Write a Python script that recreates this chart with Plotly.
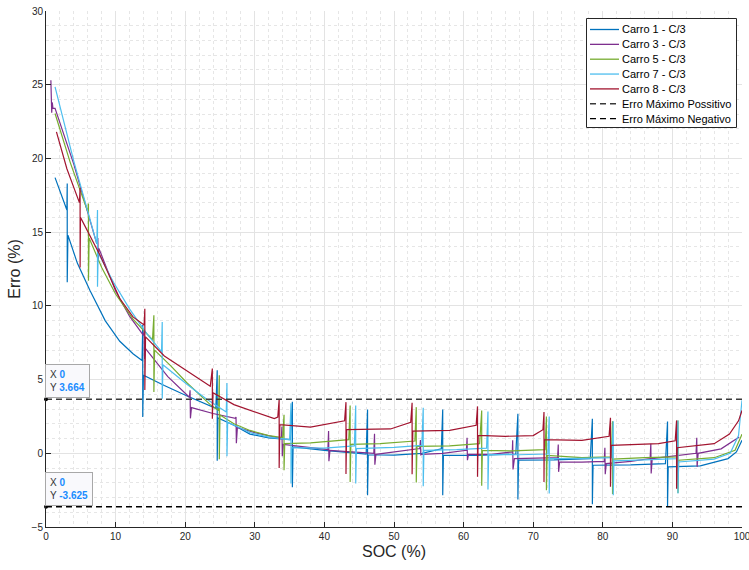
import plotly.graph_objects as go

# ---------------- data ----------------
car1_x = [1.3, 2.0, 3.0, 3.05, 3.05, 3.15, 4.5, 6.3, 8.5, 10.6, 12.5, 13.8, 13.9, 13.9, 14.0, 17.0, 20.2, 24.4,
          24.6, 24.6, 24.7, 27.0, 29.3, 32.0, 35.1, 35.4, 35.4, 35.5, 40.0, 43.0, 46.0, 46.2, 46.2, 46.3, 50.0,
          54.0, 56.8, 57.0, 57.0, 57.1, 62.0, 67.5, 67.8, 67.8, 67.9, 73.0, 78.2, 78.5, 78.5, 78.6, 84.0, 89.0,
          89.3, 89.3, 89.4, 94.0, 98.0, 99.2, 100]
car1_y = [18.7, 17.8, 16.5, 18.3, 11.6, 14.8, 12.9, 11.06, 9.0, 7.6, 6.75, 6.3, 8.7, 2.46, 5.3, 4.6, 3.9, 3.05,
          5.63, -0.5, 2.4, 1.9, 1.3, 1.05, 0.92, 3.5, -2.3, 0.43, 0.2, 0.07, -0.05, 2.97, -2.84, -0.1, -0.12,
          0.0, 0.3, 2.97, -2.84, -0.14, -0.14, -0.05, 2.68, -3.13, -0.47, -0.45, -0.36, 2.34, -3.45, -0.81,
          -0.78, -0.7, 2.16, -3.63, -0.92, -0.85, -0.36, 0.09, 0.88]

car3_x = [0.7, 0.72, 0.78, 0.82, 0.9, 1.0, 1.3, 4.0, 7.3, 7.45, 7.5, 7.6, 10.0, 12.0, 14.0, 14.1, 14.15, 14.3,
          17.5, 20.6, 20.7, 20.75, 20.9, 24.0, 27.2, 27.3, 27.35, 27.5, 30.0, 33.8, 33.9, 33.95, 34.1, 37.0,
          40.5, 40.6, 40.65, 40.8, 44.0, 47.1, 47.2, 47.25, 47.4, 50.5, 53.7, 53.8, 53.85, 54.0, 57.0, 60.4,
          60.5, 60.55, 60.7, 64.0, 67.0, 67.05, 67.1, 67.3, 70.5, 73.5, 73.6, 73.65, 73.8, 77.0, 80.2, 80.3,
          80.35, 80.5, 84.0, 86.8, 86.9, 86.95, 87.1, 90.0, 93.4, 93.5, 93.55, 93.7, 97.0, 99.6]
car3_y = [25.3, 24.2, 25.1, 23.1, 23.8, 23.4, 23.4, 19.6, 14.2, 14.6, 13.0, 13.9, 11.0, 9.3, 8.0, 8.4, 6.4, 7.1,
          5.2, 3.8, 4.27, 2.37, 3.1, 2.7, 2.37, 2.46, 0.68, 1.75, 1.4, 1.0, 1.82, -0.2, 0.6, 0.45, 0.25, 1.51,
          -0.54, 0.2, 0.1, 0.0, 1.33, -0.77, -0.07, 0.1, 0.32, 0.9, -0.1, -0.07, 0.0, 0.2, 1.06, -0.47, -0.07,
          -0.07, 0.09, 0.88, -1.1, -0.36, -0.35, -0.3, 0.59, -1.26, -0.59, -0.6, -0.55, 0.38, -1.42, -0.7,
          -0.55, -0.36, 0.65, -1.37, -0.36, -0.2, 0.0, 1.06, -0.92, 0.0, 0.3, 1.1]

car5_x = [1.3, 3.5, 6.0, 6.1, 6.1, 6.2, 8.0, 10.0, 12.5, 15.3, 15.5, 15.5, 15.6, 18.0, 20.2, 23.6, 24.8, 24.9,
          24.9, 25.0, 27.0, 29.3, 32.0, 34.0, 34.2, 34.2, 34.3, 38.0, 43.5, 43.7, 43.7, 43.8, 48.0, 53.0, 53.2,
          53.2, 53.3, 58.0, 62.3, 62.6, 62.6, 62.7, 67.0, 71.7, 71.9, 71.9, 72.0, 77.0, 81.2, 81.4, 81.4, 81.5,
          86.0, 90.6, 90.8, 90.8, 90.9, 96.0, 99.0, 100]
car5_y = [23.05, 19.7, 16.4, 16.94, 11.7, 14.6, 12.6, 10.8, 9.1, 7.7, 9.36, 4.16, 7.0, 5.9, 4.8, 3.3, 2.9, 5.3,
          -0.4, 2.6, 2.0, 1.55, 1.2, 1.06, 2.61, -1.15, 0.65, 0.7, 0.92, 3.24, -1.94, 0.6, 0.65, 0.83, 3.13,
          -1.98, 0.47, 0.5, 0.65, 2.9, -2.2, 0.2, 0.16, 0.25, 2.5, -2.5, -0.14, -0.3, -0.25, 2.18, -2.77, -0.4,
          -0.3, -0.25, 2.23, -2.7, -0.47, -0.3, 0.2, 1.3]

car7_x = [1.3, 4.0, 7.3, 7.4, 7.4, 7.5, 9.7, 12.0, 14.5, 16.6, 16.7, 16.7, 16.8, 20.2, 23.0, 25.9, 26.0, 26.0,
          26.1, 28.0, 29.3, 32.0, 35.0, 35.2, 35.2, 35.3, 40.0, 44.3, 44.5, 44.5, 44.6, 50.0, 54.0, 54.2, 54.2,
          54.3, 59.0, 63.3, 63.5, 63.5, 63.6, 68.0, 72.1, 72.3, 72.3, 72.4, 77.0, 81.3, 81.5, 81.5, 81.6, 86.0,
          90.6, 90.8, 90.8, 90.9, 96.0, 98.3, 99.5, 100]
car7_y = [24.85, 19.8, 14.2, 16.5, 11.3, 13.6, 11.6, 9.8, 8.1, 6.9, 8.9, 3.7, 6.0, 4.7, 3.7, 2.8, 4.77, -0.2,
          2.1, 1.7, 1.4, 1.1, 0.92, 3.4, -2.05, 0.38, 0.35, 0.5, 3.24, -2.05, 0.32, 0.4, 0.54, 3.09, -2.23,
          0.2, 0.25, 0.35, 2.84, -2.45, -0.07, -0.1, -0.05, 2.5, -2.72, -0.36, -0.35, -0.3, 2.18, -2.84, -0.52,
          -0.45, -0.36, 2.23, -2.72, -0.59, -0.4, 0.0, 1.2, 3.6]

car8_x = [1.5, 3.0, 4.8, 4.9, 4.9, 4.95, 7.8, 10.6, 12.5, 14.1, 14.2, 14.2, 14.3, 17.0, 20.2, 23.6, 23.9, 23.9,
          24.0, 27.0, 30.3, 32.8, 33.3, 33.5, 33.5, 33.6, 38.0, 42.9, 43.1, 43.1, 43.2, 49.5, 52.4, 52.6, 52.6,
          52.7, 58.0, 61.8, 62.0, 62.0, 62.1, 66.0, 70.0, 71.4, 71.55, 71.55, 71.6, 77.0, 80.9, 81.1, 81.1,
          81.2, 88.0, 90.4, 90.6, 90.6, 90.7, 96.0, 98.2, 99.5, 100]
car8_y = [21.8, 19.3, 17.0, 18.0, 12.6, 16.0, 13.4, 10.5, 9.25, 8.7, 9.8, 4.3, 7.9, 6.6, 5.6, 4.55, 5.75, 2.35,
          4.1, 3.3, 2.75, 2.35, 2.45, 3.65, -1.0, 1.95, 1.78, 2.2, 3.47, -1.4, 1.6, 1.65, 2.1, 3.42, -1.42, 1.5,
          1.55, 1.9, 3.18, -1.6, 1.22, 1.15, 1.2, 1.6, 2.8, -1.94, 0.92, 0.88, 1.15, 2.41, -2.27, 0.54, 0.65,
          0.85, 2.23, -2.4, 0.38, 0.65, 1.3, 2.2, 2.9]

err_pos = 3.664
err_neg = -3.625
x_limits = [0, 100]

names = ["Carro 1 - C/3", "Carro 3 - C/3", "Carro 5 - C/3", "Carro 7 - C/3", "Carro 8 - C/3"]
colors = ["#0072BD", "#7E2F8E", "#77AC30", "#4DBEEE", "#A2142F"]
xs_all = [car1_x, car3_x, car5_x, car7_x, car8_x]
ys_all = [car1_y, car3_y, car5_y, car7_y, car8_y]
ref_names = ["Erro Máximo Possitivo", "Erro Máximo Negativo"]
ref_colors = ["#3a3a3a", "#000000"]

FONT = "Liberation Sans, Arial, Helvetica, sans-serif"
DASH = "6px,4px"

fig = go.Figure()
for name, xs, ys, col in zip(names, xs_all, ys_all, colors):
    fig.add_trace(go.Scatter(x=xs, y=ys, mode="lines", name=name, showlegend=False,
                             line=dict(color=col, width=1.2)))

for name, val, col in zip(ref_names, [err_pos, err_neg], ref_colors):
    fig.add_trace(go.Scatter(x=x_limits, y=[val, val], mode="lines", name=name, showlegend=False,
                             line=dict(color=col, width=1.3, dash=DASH)))

# data-tip markers
fig.add_trace(go.Scatter(x=[0, 0], y=[err_pos, err_neg], mode="markers", showlegend=False,
                         marker=dict(color="#000000", size=4), cliponaxis=False, hoverinfo="skip"))

tipcol = "#1a8cff"
for val in (err_pos, err_neg):
    fig.add_annotation(
        x=0, y=val, xref="x", yref="y", xanchor="left", yanchor="bottom",
        xshift=-1, yshift=1, showarrow=False, align="left",
        text=("X <span style='color:%s'><b>0</b></span><br>Y <span style='color:%s'><b>%s</b></span>"
              % (tipcol, tipcol, ("%.3f" % val))),
        font=dict(family=FONT, size=10, color="#333333"),
        bgcolor="#f9f9fc", bordercolor="#a8a8a8", borderwidth=1, borderpad=4,
    )

# ---------------- legend (drawn by hand, MATLAB style) ----------------
W, H = 749, 570
L, R, T, B = 46, 7, 11, 43
pw, ph = W - L - R, H - T - B


def px2x(px):
    return (px - L) / pw


def py2y(py):
    return (H - B - py) / ph


box = dict(x0=586.5, x1=736.5, y0=18.5, y1=127.5)
fig.add_shape(type="rect", xref="paper", yref="paper",
              x0=px2x(box["x0"]), x1=px2x(box["x1"]), y0=py2y(box["y1"]), y1=py2y(box["y0"]),
              line=dict(color="#262626", width=1), fillcolor="white", layer="above")

leg_labels = names + ref_names
leg_colors = colors + ref_colors
row0, step = 29.5, 14.85
for i, (lab, col) in enumerate(zip(leg_labels, leg_colors)):
    yy = py2y(row0 + i * step)
    dash = DASH if i >= 5 else "solid"
    fig.add_shape(type="line", xref="paper", yref="paper",
                  x0=px2x(590), x1=px2x(619), y0=yy, y1=yy,
                  line=dict(color=col, width=1.3, dash=dash), layer="above")
    fig.add_annotation(x=px2x(620), y=yy, xref="paper", yref="paper", xanchor="left", yanchor="middle",
                       showarrow=False, text=lab, font=dict(family=FONT, size=11, color="#000000"))

axis_common = dict(
    showline=True, linecolor="#262626", linewidth=1, mirror=False, automargin=False,
    ticks="inside", ticklen=5, tickcolor="#262626", tickwidth=1, ticklabeloverflow="allow",
    showgrid=True, gridcolor="#e3e3e3", gridwidth=1, zeroline=False,
    tickfont=dict(family=FONT, size=10, color="#262626"),
)

fig.update_xaxes(range=[0, 100], dtick=10, tick0=0,
                 title=dict(text="SOC (%)", font=dict(family=FONT, size=16, color="#262626"), standoff=4),
                 minor=dict(dtick=2, showgrid=True, gridcolor="#e6e6e6", griddash="dot", ticks=""),
                 **axis_common)
fig.update_yaxes(range=[-5, 30], dtick=5, tick0=0,
                 title=dict(text="Erro (%)", font=dict(family=FONT, size=16, color="#262626"), standoff=6),
                 minor=dict(dtick=1, showgrid=True, gridcolor="#e6e6e6", griddash="dot", ticks=""),
                 **axis_common)

fig.update_layout(
    width=W, height=H,
    margin=dict(l=L, r=R, t=T, b=B),
    plot_bgcolor="white", paper_bgcolor="white",
    font=dict(family=FONT, color="#262626"),
    showlegend=False,
)

fig.write_html("out.html")
